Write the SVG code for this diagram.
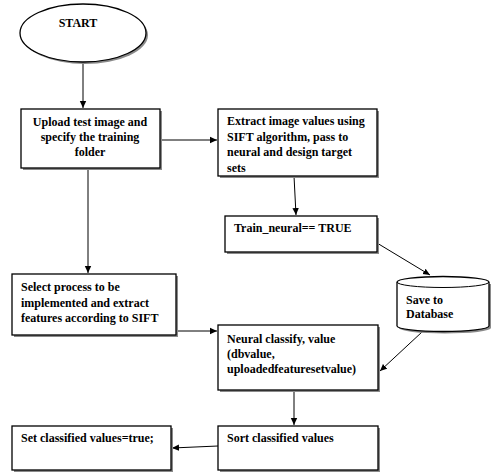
<svg xmlns="http://www.w3.org/2000/svg" width="494" height="472" viewBox="0 0 494 472">
<style>
.box{fill:#fff;stroke:#000;stroke-width:1.3}
.sh{fill:#8a8a8a;stroke:none}
.t{font-family:"Liberation Serif","Times New Roman",serif;font-weight:bold;font-size:12px;fill:#000}
.c{text-anchor:middle}
.ln{stroke:#000;stroke-width:1;fill:none}
</style>
<defs>
<marker id="ah" markerWidth="8" markerHeight="8" refX="7" refY="4" orient="auto" markerUnits="userSpaceOnUse">
<path d="M0,0.8 L7,4 L0,7.2 Z" fill="#000"/>
</marker>
</defs>
<rect width="494" height="472" fill="#fff"/>
<g id="connectors">
<line class="ln" x1="83" y1="62" x2="83" y2="108" marker-end="url(#ah)"/>
<line class="ln" x1="160" y1="140" x2="217" y2="140" marker-end="url(#ah)"/>
<line class="ln" x1="294" y1="176" x2="296" y2="215" marker-end="url(#ah)"/>
<line class="ln" x1="377" y1="243" x2="430" y2="275" marker-end="url(#ah)"/>
<line class="ln" x1="88" y1="168" x2="88" y2="273" marker-end="url(#ah)"/>
<line class="ln" x1="176" y1="331" x2="217" y2="331" marker-end="url(#ah)"/>
<line class="ln" x1="422" y1="332" x2="380" y2="371" marker-end="url(#ah)"/>
<line class="ln" x1="294" y1="390" x2="294" y2="425" marker-end="url(#ah)"/>
<line class="ln" x1="218" y1="446" x2="172" y2="448" marker-end="url(#ah)"/>
</g>
<g id="start">
<ellipse cx="85" cy="35" rx="63" ry="29" class="sh"/>
<ellipse cx="83" cy="33" rx="63" ry="29" class="box"/>
<text class="t c" x="78" y="27">START</text>
</g>
<g id="upload">
<rect x="23" y="111" width="139" height="59" class="sh"/>
<rect x="21" y="109" width="139" height="59" class="box"/>
<text class="t c" x="90" y="126">Upload test image and</text>
<text class="t c" x="90" y="141">specify the training</text>
<text class="t c" x="90" y="156">folder</text>
</g>
<g id="extract">
<rect x="220" y="111" width="159" height="67" class="sh"/>
<rect x="218" y="109" width="159" height="67" class="box"/>
<text class="t" x="227" y="125">Extract image values using</text>
<text class="t" x="227" y="141">SIFT algorithm, pass to</text>
<text class="t" x="227" y="156">neural and design target</text>
<text class="t" x="227" y="172">sets</text>
</g>
<g id="train">
<rect x="227" y="218" width="152" height="36" class="sh"/>
<rect x="225" y="216" width="152" height="36" class="box"/>
<text class="t" x="234" y="232">Train_neural== TRUE</text>
</g>
<g id="database">
<path d="M399,284 L399,328 A46,5.5 0 0 0 491,328 L491,284 Z" class="sh"/>
<path d="M397,282 L397,326 A46,5.5 0 0 0 489,326 L489,282 A46,5.5 0 0 0 397,282 Z" class="box"/>
<path d="M397,282 A46,5.5 0 0 0 489,282" class="ln" stroke-width="1.3"/>
<text class="t" x="406" y="304">Save to</text>
<text class="t" x="406" y="318">Database</text>
</g>
<g id="select">
<rect x="14" y="276" width="164" height="61" class="sh"/>
<rect x="12" y="274" width="164" height="61" class="box"/>
<text class="t" x="21" y="291">Select process to be</text>
<text class="t" x="21" y="307">implemented and extract</text>
<text class="t" x="21" y="322">features according to SIFT</text>
</g>
<g id="neural">
<rect x="220" y="327" width="160" height="65" class="sh"/>
<rect x="218" y="325" width="160" height="65" class="box"/>
<text class="t" x="227" y="343">Neural classify, value</text>
<text class="t" x="227" y="358">(dbvalue,</text>
<text class="t" x="227" y="373">uploadedfeaturesetvalue)</text>
</g>
<g id="sort">
<rect x="220" y="428" width="160" height="44" class="sh"/>
<rect x="218" y="426" width="160" height="44" class="box"/>
<text class="t" x="227" y="442">Sort classified values</text>
</g>
<g id="setvals">
<rect x="14" y="428" width="159" height="44" class="sh"/>
<rect x="12" y="426" width="159" height="44" class="box"/>
<text class="t" x="21" y="442">Set classified values=true;</text>
</g>
</svg>
